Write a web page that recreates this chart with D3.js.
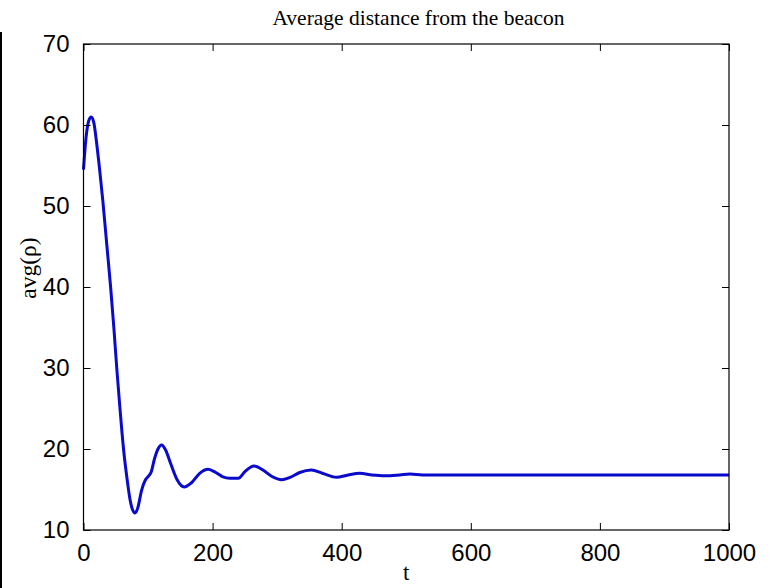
<!DOCTYPE html>
<html>
<head>
<meta charset="utf-8">
<script src="https://cdn.jsdelivr.net/npm/d3@7"></script>
<style>
  html, body { margin: 0; padding: 0; background: #fff; }
  svg { display: block; }
</style>
</head>
<body>
<svg id="chart" width="773" height="588"></svg>
<script>
// ---- data ----
const tValues = [0, 4, 8, 12, 16, 20, 25, 30, 36, 42, 47, 51.5, 56.5, 62, 68, 72, 76, 80, 84, 90, 96, 100, 105, 110, 116, 121, 127, 135, 145, 156, 167, 180, 193, 205, 215, 227, 240, 250, 264, 278, 292, 307, 320, 335, 353, 370, 392, 410, 428, 447, 467, 490, 506, 525, 600, 800, 1000];
const avgRho  = [54.5, 58.5, 60.5, 61.0, 60.3, 58.0, 54.5, 50.6, 45.3, 40.0, 35.0, 30.0, 25.0, 20.0, 16.0, 13.8, 12.5, 12.1, 12.7, 14.9, 16.2, 16.6, 17.2, 18.8, 20.1, 20.5, 19.9, 18.2, 16.2, 15.3, 15.8, 17.0, 17.5, 17.1, 16.6, 16.4, 16.4, 17.2, 17.9, 17.4, 16.6, 16.2, 16.5, 17.1, 17.4, 17.0, 16.5, 16.8, 17.0, 16.8, 16.7, 16.8, 16.9, 16.8, 16.8, 16.8, 16.8];
const xTicks = [0, 200, 400, 600, 800, 1000];
const yTicks = [10, 20, 30, 40, 50, 60, 70];
const titleText = "Average distance from the beacon";
const xLabel = "t";
const yLabel = "avg(\u03C1)";

(function () {
// ---- layout ----
const svg = d3.select("#chart");
const mL = 83.5, mR = 729, mT = 44, mB = 530;
const x = d3.scaleLinear().domain([0, 1000]).range([mL, mR]);
const y = d3.scaleLinear().domain([10, 70]).range([mB, mT]);
const tickLen = 7;

// stray left border line
svg.append("line").attr("x1", 1).attr("x2", 1).attr("y1", 32).attr("y2", 588)
  .attr("stroke", "#000").attr("stroke-width", 2);

// curve
const pts = tValues.map((t, i) => [t, avgRho[i]]);
const line = d3.line().x(d => x(d[0])).y(d => y(d[1])).curve(d3.curveMonotoneX);
svg.append("path").datum(pts).attr("d", line)
  .attr("fill", "none").attr("stroke", "#0a0acc").attr("stroke-width", 3)
  .attr("stroke-linejoin", "round");

// box
svg.append("rect").attr("x", mL).attr("y", mT)
  .attr("width", mR - mL).attr("height", mB - mT)
  .attr("fill", "none").attr("stroke", "#000").attr("stroke-width", 1.2);

// axes (ticks inward, on all four sides)
const fontSans = "'Liberation Sans', Arial, sans-serif";
const bottomAxis = d3.axisBottom(x).tickValues(xTicks).tickSizeInner(-tickLen).tickSizeOuter(0).tickPadding(14).tickFormat(d3.format("d"));
const topAxis = d3.axisTop(x).tickValues(xTicks).tickSizeInner(-tickLen).tickSizeOuter(0).tickFormat("");
const leftAxis = d3.axisLeft(y).tickValues(yTicks).tickSizeInner(-tickLen).tickSizeOuter(0).tickPadding(14).tickFormat(d3.format("d"));
const rightAxis = d3.axisRight(y).tickValues(yTicks).tickSizeInner(-tickLen).tickSizeOuter(0).tickFormat("");

function style(g) {
  g.select(".domain").remove();
  g.selectAll(".tick line").attr("stroke", "#000").attr("stroke-width", 1);
  g.selectAll(".tick text").attr("fill", "#000").attr("font-family", fontSans).attr("font-size", 24);
}
svg.append("g").attr("transform", `translate(0,${mB})`).call(bottomAxis).call(style);
svg.append("g").attr("transform", `translate(0,${mT})`).call(topAxis).call(style);
svg.append("g").attr("transform", `translate(${mL},0)`).call(leftAxis).call(style);
svg.append("g").attr("transform", `translate(${mR},0)`).call(rightAxis).call(style);

// titles
const fontSerif = "'Liberation Serif', 'Times New Roman', serif";
svg.append("text").attr("x", 418.5).attr("y", 25)
  .attr("text-anchor", "middle").attr("font-family", fontSerif).attr("font-size", 21.5)
  .attr("fill", "#000").text(titleText);
svg.append("text").attr("x", (mL + mR) / 2).attr("y", 580)
  .attr("text-anchor", "middle").attr("font-family", fontSerif).attr("font-size", 23)
  .attr("fill", "#000").text(xLabel);
svg.append("text").attr("transform", `translate(36,268) rotate(-90)`)
  .attr("text-anchor", "middle").attr("font-family", fontSerif).attr("font-size", 23.5)
  .attr("fill", "#000").text(yLabel);
})();
</script>
</body>
</html>
